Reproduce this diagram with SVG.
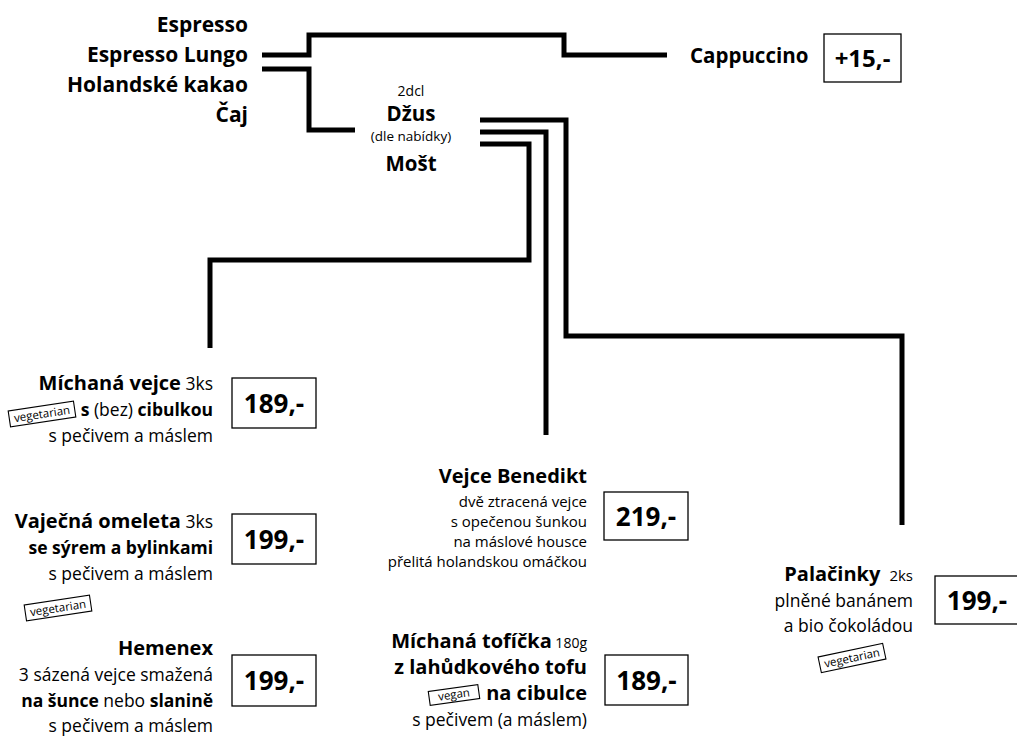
<svg xmlns="http://www.w3.org/2000/svg" width="1017" height="740" viewBox="0 0 1017 740">
<style>
text{font-family:"Open Sans","Liberation Sans",sans-serif;fill:#000}
.b{font-weight:700}
.r{font-weight:400}
.e{text-anchor:end}
.m{text-anchor:middle}
.d{font-size:21px;font-weight:700}
.t{font-size:20px}
.s{font-size:17.5px}
.x{font-size:15px}
.p{font-size:26px;font-weight:700;text-anchor:middle}
.conn{fill:none;stroke:#000;stroke-width:5;stroke-linejoin:miter;stroke-linecap:butt}
.box{fill:#fff;stroke:#000;stroke-width:1.3}
.tag rect{fill:#fff;stroke:#000;stroke-width:1.1}
.tag text{font-size:11.5px;text-anchor:middle;font-weight:400}
</style>
<rect width="1017" height="740" fill="#fff"/>
<g id="connectors">
<polyline class="conn" points="262,55 309,55 309,35 564,35 564,55 667,55"/>
<polyline class="conn" points="262,69 309,69 309,130 355,130"/>
<polyline class="conn" points="480,120 566,120 566,336 902,336 902,525"/>
<polyline class="conn" points="480,132 546,132 546,435"/>
<polyline class="conn" points="480,144 529,144 529,260 210,260 210,348"/>
</g>
<g id="hot-drinks">
<text class="d e" x="248" y="32">Espresso</text>
<text class="d e" x="248" y="62">Espresso Lungo</text>
<text class="d e" x="248" y="92">Holandské kakao</text>
<text class="d e" x="248" y="122">Čaj</text>
</g>
<g id="cappuccino">
<text class="b" x="690" y="63" font-size="20.5">Cappuccino</text>
<rect class="box" x="824" y="34" width="77" height="48"/>
<text class="b m" x="862.5" y="67" font-size="24">+15,-</text>
</g>
<g id="cold-drinks">
<text class="r m" x="411" y="96" font-size="14">2dcl</text>
<text class="b m" x="411" y="121" font-size="20.5">Džus</text>
<text class="r m" x="411" y="141" font-size="13.5">(dle nabídky)</text>
<text class="b m" x="411" y="171" font-size="20.5">Mošt</text>
</g>
<g id="michana-vejce">
<text class="e" x="213" y="390"><tspan class="b t">Míchaná vejce</tspan><tspan class="r s"> 3ks</tspan></text>
<text class="e" x="213" y="416"><tspan class="b s">s</tspan><tspan class="r s"> (bez) </tspan><tspan class="b s">cibulkou</tspan></text>
<text class="e r s" x="213" y="442">s pečivem a máslem</text>
<g class="tag" transform="translate(42,414) rotate(-8.5)"><rect x="-33" y="-8" width="66" height="16"/><text x="0" y="4">vegetarian</text></g>
<rect class="box" x="232" y="378" width="84" height="50"/>
<text class="p" x="274" y="413">189,-</text>
</g>
<g id="vajecna-omeleta">
<text class="e" x="213" y="528"><tspan class="b t">Vaječná omeleta</tspan><tspan class="r s"> 3ks</tspan></text>
<text class="e b s" x="213" y="554">se sýrem a bylinkami</text>
<text class="e r s" x="213" y="580">s pečivem a máslem</text>
<g class="tag" transform="translate(58,608) rotate(-8.5)"><rect x="-33" y="-8" width="66" height="16"/><text x="0" y="4">vegetarian</text></g>
<rect class="box" x="232" y="514" width="84" height="50"/>
<text class="p" x="274" y="549">199,-</text>
</g>
<g id="hemenex">
<text class="e b t" x="213" y="655">Hemenex</text>
<text class="e r s" x="213" y="681">3 sázená vejce smažená</text>
<text class="e" x="213" y="707"><tspan class="b s">na šunce</tspan><tspan class="r s"> nebo </tspan><tspan class="b s">slanině</tspan></text>
<text class="e r s" x="213" y="732">s pečivem a máslem</text>
<rect class="box" x="232" y="655" width="84" height="51"/>
<text class="p" x="274" y="690">199,-</text>
</g>
<g id="vejce-benedikt">
<text class="e b t" x="587" y="483">Vejce Benedikt</text>
<text class="e r x" x="587" y="507">dvě ztracená vejce</text>
<text class="e r x" x="587" y="527">s opečenou šunkou</text>
<text class="e r x" x="587" y="547">na máslové housce</text>
<text class="e r x" x="587" y="567">přelitá holandskou omáčkou</text>
<rect class="box" x="604" y="492" width="84" height="48"/>
<text class="p" x="646" y="526">219,-</text>
</g>
<g id="michana-toficka">
<text class="e" x="587" y="648"><tspan class="b t">Míchaná tofíčka</tspan><tspan class="r" font-size="14"> 180g</tspan></text>
<text class="e b t" x="587" y="674">z lahůdkového tofu</text>
<text class="e b t" x="587" y="700">na cibulce</text>
<text class="e r s" x="587" y="726">s pečivem (a máslem)</text>
<g class="tag" transform="translate(454,695) rotate(-8)"><rect x="-25" y="-7" width="50" height="14"/><text x="0" y="3.5" font-size="10.5">vegan</text></g>
<rect class="box" x="605" y="655" width="83" height="50"/>
<text class="p" x="646.5" y="690">189,-</text>
</g>
<g id="palacinky">
<text class="e" x="913" y="581"><tspan class="b t">Palačinky</tspan><tspan class="r" font-size="15" dx="9">2ks</tspan></text>
<text class="e r s" x="913" y="607">plněné banánem</text>
<text class="e r s" x="913" y="632">a bio čokoládou</text>
<g class="tag" transform="translate(852,658) rotate(-12)"><rect x="-33" y="-8" width="66" height="16"/><text x="0" y="4">vegetarian</text></g>
<rect class="box" x="935" y="576" width="86" height="48"/>
<text class="p" x="977" y="610">199,-</text>
</g>
</svg>
